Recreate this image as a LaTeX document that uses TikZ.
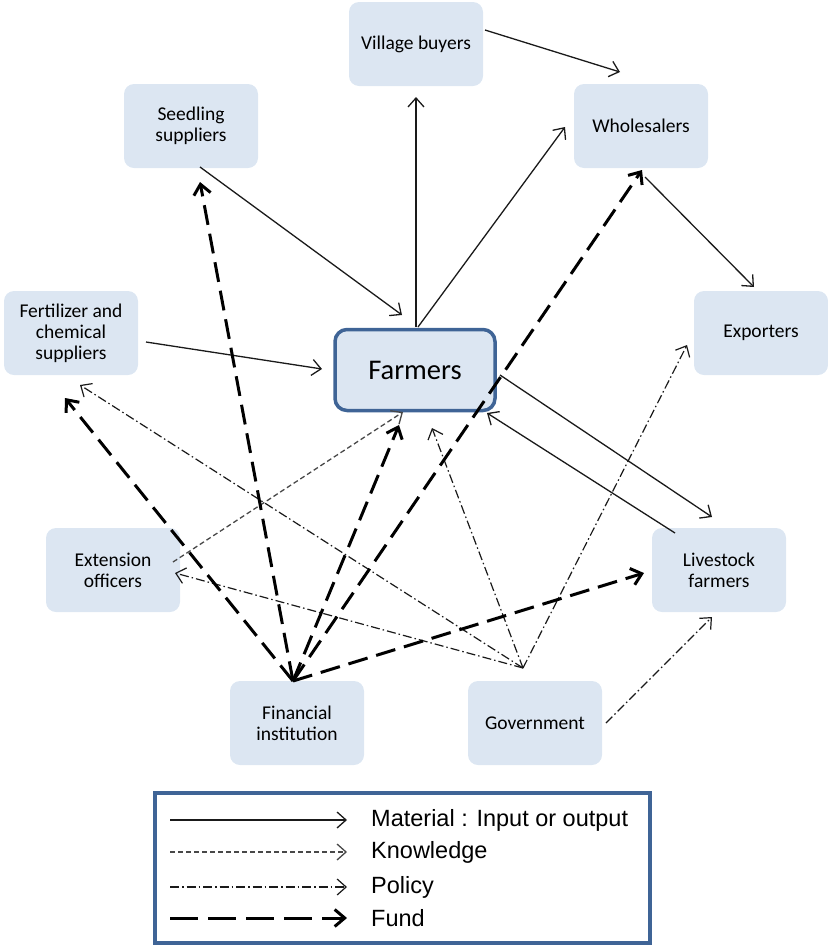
\documentclass[tikz,border=0pt]{standalone}
\usepackage{fontspec}
\setmainfont{Carlito}
\newfontfamily\legendfont{Liberation Sans}
\usetikzlibrary{arrows.meta}
\definecolor{boxfill}{HTML}{DCE6F2}
\definecolor{boxborder}{HTML}{3F6496}
\definecolor{linecol}{HTML}{1A1A1A}
\begin{document}
\begin{tikzpicture}[x=1pt,y=-1pt,
  actor/.style={fill=boxfill, draw=none, rounded corners=10pt, minimum width=134pt, minimum height=84pt, inner sep=0pt, align=center, font=\fontsize{19.5}{21}\selectfont},
  farmerbox/.style={fill=boxfill, draw=boxborder, line width=3.5pt, rounded corners=12pt, minimum width=160pt, minimum height=81pt, inner sep=0pt, font=\fontsize{28.5}{32}\selectfont},
  material/.style={draw=linecol, line width=1.3pt, -{Straight Barb[length=9pt,width=16pt]}},
  knowledge/.style={draw=linecol!80, line width=1.3pt, dash pattern=on 5pt off 3pt, -{Straight Barb[length=9pt,width=16pt,sep=0pt]}},
  policy/.style={draw=linecol, line width=1.2pt, dash pattern=on 9pt off 3pt on 1.5pt off 3pt, -{Straight Barb[length=9pt,width=16pt]}},
  fund/.style={draw=black, line width=3pt, dash pattern=on 20pt off 9pt, -{Straight Barb[length=10pt,width=17pt]}},
  fundlegend/.style={fund, dash pattern=on 28pt off 10pt},
  legendbox/.style={draw=boxborder, line width=3.5pt, fill=white}
]
\useasboundingbox (0,0) rectangle (828,946);

% nodes
\node[actor] (vb) at (416,44) {Village buyers};
\node[actor] (ss) at (191,126) {Seedling\\suppliers};
\node[actor] (wh) at (641,126) {Wholesalers};
\node[actor] (fe) at (71,333) {Fertilizer and\\chemical\\suppliers};
\node[actor] (ex) at (761,333) {Exporters};
\node[farmerbox] (fa) at (415,370) {Farmers};
\node[actor] (eo) at (113,570) {Extension\\officers};
\node[actor] (li) at (719,570) {Livestock\\farmers};
\node[actor] (fi) at (297,723) {Financial\\institution};
\node[actor] (go) at (535,723) {Government};

% connector end points
\coordinate (vbout) at (485,30);
\coordinate (whin1) at (620,72);
\coordinate (fatop1) at (416,327);
\coordinate (vbin) at (416,97);
\coordinate (fatop2) at (418,327);
\coordinate (whin2) at (565,127);
\coordinate (ssout) at (200,167);
\coordinate (fain1) at (402,315);
\coordinate (feout) at (146,342);
\coordinate (fain2) at (322,369);
\coordinate (whout) at (645,177);
\coordinate (exin) at (754,287);
\coordinate (faout) at (500,375);
\coordinate (liin1) at (712,517);
\coordinate (liout) at (675,533);
\coordinate (fain3) at (487,413);
\coordinate (eoout) at (173,562);
\coordinate (fain4) at (403,412);
\coordinate (gosrc) at (523,668);
\coordinate (goright) at (606,723);
\coordinate (fein1) at (80,385);
\coordinate (eoin) at (175,573);
\coordinate (fain5) at (432,428);
\coordinate (exin2) at (687,345);
\coordinate (liin2) at (712,617);
\coordinate (fisrc) at (293,681);
\coordinate (ssin) at (200,182);
\coordinate (fein2) at (65,398);
\coordinate (fain6) at (399,425);
\coordinate (whin3) at (642,170);
\coordinate (liin3) at (644,573);

% material
\draw[material] (vbout) -- (whin1);
\draw[material] (fatop1) -- (vbin);
\draw[material] (fatop2) -- (whin2);
\draw[material] (ssout) -- (fain1);
\draw[material] (feout) -- (fain2);
\draw[material] (whout) -- (exin);
\draw[material] (faout) -- (liin1);
\draw[material] (liout) -- (fain3);

% knowledge
\draw[knowledge] (eoout) -- (fain4);

% policy
\draw[policy] (gosrc) -- (fein1);
\draw[policy] (gosrc) -- (eoin);
\draw[policy] (gosrc) -- (fain5);
\draw[policy] (gosrc) -- (exin2);
\draw[policy] (goright) -- (liin2);

% fund
\draw[fund] (fisrc) -- (ssin);
\draw[fund] (fisrc) -- (fein2);
\draw[fund] (fisrc) -- (fain6);
\draw[fund] (fisrc) -- (whin3);
\draw[fund] (fisrc) -- (liin3);

% legend
\node[legendbox, minimum width=495pt, minimum height=150pt] (lg) at (402.5,868) {};
\coordinate (l1a) at (170,820); \coordinate (l1b) at (347,820);
\coordinate (l2a) at (170,852); \coordinate (l2b) at (347,852);
\coordinate (l3a) at (170,887); \coordinate (l3b) at (347,887);
\coordinate (l4a) at (170,918); \coordinate (l4b) at (347,918);
\draw[material] (l1a) -- (l1b);
\draw[knowledge] (l2a) -- (l2b);
\draw[policy] (l3a) -- (l3b);
\draw[fundlegend] (l4a) -- (l4b);
\begin{scope}[every node/.style={anchor=west, inner sep=0pt, font=\legendfont\fontsize{23.5}{26}\selectfont}]
\node (t1) at (371,820) {Material : Input or output};
\node (t2) at (371,852) {Knowledge};
\node (t3) at (371,887) {Policy};
\node (t4) at (371,918) {Fund};
\end{scope}
\end{tikzpicture}
\end{document}
